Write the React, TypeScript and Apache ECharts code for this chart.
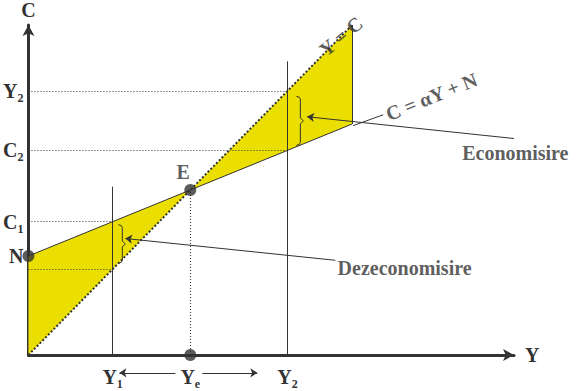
import React, { useEffect, useRef } from 'react';
import * as echarts from 'echarts';

// ---- values (data units) ----
const xAxisMax = 150;
const yAxisMax = 100;

const xTickValues = [26, 50, 80];
const xTickLabels = ['Y_1', 'Y_e', 'Y_2'];
const yTickValues = [26, 30, 40.4, 62, 80];
const yTickLabels = ['Y_1', 'N', 'C_1', 'C_2', 'Y_2'];

const consumptionLine = [[0, 30], [50, 50], [100, 70]];
const incomeLine = [[0, 0], [100, 100]];
const dissavingArea = [[0, 0], [0, 30], [50, 50]];
const savingArea = [[50, 50], [100, 100], [100, 70]];

const dottedGuides = [
  [[0, 80], [80, 80]],
  [[0, 62], [80, 62]],
  [[0, 40.4], [26, 40.4]],
  [[0, 26], [26, 26]],
  [[50, 0], [50, 50]],
];
const solidGuides = [
  [[26, 0], [26, 51]],
  [[80, 0], [80, 89]],
  [[100, 70], [100, 100]],
];
const bigDots = [[50, 50], [0, 30], [50, 0]];

// brace: x, top, bottom
const braces = [
  [29, 39.5, 27.8],
  [84, 78.4, 63.5],
];
const arrowPointers = [
  [[94.8, 28.7], [29.9, 35.3]],
  [[150, 65.6], [86.1, 72.2]],
  [[45.4, -5.4], [28.1, -5.4]],
  [[53.7, -5.4], [70.7, -5.4]],
];
const plainPointers = [[[100.3, 69.5], [109.6, 72.8]]];

const annotations = [
  { name: 'E', value: [47.8, 55.4], align: 'center', rotate: 0 },
  { name: 'Dezeconomisire', value: [95.5, 26.3], align: 'left', rotate: 0 },
  { name: 'Economisire', value: [134, 61.1], align: 'left', rotate: 0 },
  { name: 'C = αY + N', value: [124.5, 78.3], align: 'center', rotate: 22 },
  { name: 'Y = C', value: [96.5, 96.6], align: 'center', rotate: 40 },
];

const INK = '#333333';
const YELLOW = '#EADF00';
const FONT = 'Liberation Serif';

const rich = {
  m: { fontFamily: FONT, fontWeight: 'bold', fontSize: 20, color: INK, lineHeight: 26 },
  s: { fontFamily: FONT, fontWeight: 'bold', fontSize: 12, color: INK, lineHeight: 12, verticalAlign: 'bottom' },
};

function fmt(name: string): string {
  const i = name.indexOf('_');
  if (i < 0) return `{m|${name}}`;
  return `{m|${name.slice(0, i)}}{s|${name.slice(i + 1)}}`;
}
function lookup(values: number[], labels: string[], v: number): string {
  for (let i = 0; i < values.length; i++) {
    if (Math.abs(values[i] - v) < 1e-6) return fmt(labels[i]);
  }
  return '';
}

export default function App() {
  const ref = useRef<HTMLDivElement>(null);
  useEffect(() => {
    if (!ref.current) return;
    const chart = echarts.init(ref.current, null, { renderer: 'svg' });
    const areas = [dissavingArea, savingArea];
    const option: any = {
      animation: false,
      backgroundColor: '#ffffff',
      grid: { left: 28, right: 62, top: 21, bottom: 36 },
      xAxis: {
        type: 'value',
        min: 0,
        max: xAxisMax,
        name: 'Y',
        nameLocation: 'end',
        nameGap: 11,
        nameTextStyle: { fontFamily: FONT, fontWeight: 'bold', fontSize: 20, color: INK },
        splitLine: { show: false },
        axisTick: { show: false },
        axisLine: { onZero: false, lineStyle: { color: INK, width: 3 }, symbol: ['none', 'arrow'], symbolSize: [9, 11] },
        axisLabel: {
          customValues: xTickValues,
          margin: 9,
          formatter: (v: number) => lookup(xTickValues, xTickLabels, v),
          rich,
        },
      },
      yAxis: {
        type: 'value',
        min: 0,
        max: yAxisMax,
        name: 'C',
        nameLocation: 'end',
        nameGap: 5,
        nameTextStyle: { fontFamily: FONT, fontWeight: 'bold', fontSize: 20, color: INK, align: 'center' },
        splitLine: { show: false },
        axisTick: { show: false },
        axisLine: { onZero: false, lineStyle: { color: INK, width: 3 }, symbol: ['none', 'arrow'], symbolSize: [9, 11] },
        axisLabel: {
          customValues: yTickValues,
          margin: 5,
          formatter: (v: number) => lookup(yTickValues, yTickLabels, v),
          rich,
        },
      },
      series: [
        {
          type: 'custom',
          name: 'areas',
          clip: false,
          z: 1,
          data: areas.map((a) => a[0]),
          renderItem: (params: any, api: any) => {
            const poly = areas[params.dataIndex];
            return {
              type: 'polygon',
              shape: { points: poly.map((p) => api.coord(p)) },
              style: { fill: YELLOW, stroke: 'none' },
            };
          },
        },
        {
          type: 'line',
          name: 'C',
          data: consumptionLine,
          symbol: 'none',
          z: 3,
          lineStyle: { color: INK, width: 1 },
        },
        {
          type: 'line',
          name: 'Y=C',
          data: incomeLine,
          symbol: 'none',
          z: 3,
          lineStyle: { color: INK, width: 2, type: [2, 2] },
        },
        {
          type: 'lines',
          coordinateSystem: 'cartesian2d',
          z: 2,
          data: dottedGuides.map((c) => ({ coords: c })),
          symbol: 'none',
          lineStyle: { color: INK, width: 1, type: [1, 2], opacity: 1 },
        },
        {
          type: 'lines',
          coordinateSystem: 'cartesian2d',
          z: 2,
          data: solidGuides.map((c) => ({ coords: c })),
          symbol: 'none',
          lineStyle: { color: INK, width: 1, opacity: 1 },
        },
        {
          type: 'lines',
          coordinateSystem: 'cartesian2d',
          z: 4,
          clip: false,
          data: arrowPointers.map((c) => ({ coords: c })),
          symbol: ['none', 'arrow'],
          symbolSize: 7,
          lineStyle: { color: INK, width: 1, opacity: 1 },
        },
        {
          type: 'lines',
          coordinateSystem: 'cartesian2d',
          z: 4,
          clip: false,
          data: plainPointers.map((c) => ({ coords: c })),
          symbol: 'none',
          lineStyle: { color: INK, width: 1, opacity: 1 },
        },
        {
          type: 'custom',
          name: 'braces',
          z: 4,
          data: braces,
          encode: { x: 0, y: [1, 2] },
          renderItem: (params: any, api: any) => {
            const top = api.coord([api.value(0), api.value(1)]);
            const bot = api.coord([api.value(0), api.value(2)]);
            const x = top[0];
            const mid = (top[1] + bot[1]) / 2;
            return {
              type: 'polyline',
              shape: {
                points: [
                  [x - 4, top[1]],
                  [x - 1, top[1] + 1],
                  [x, top[1] + 3],
                  [x, mid - 3],
                  [x + 3, mid],
                  [x, mid + 3],
                  [x, bot[1] - 3],
                  [x - 1, bot[1] - 1],
                  [x - 4, bot[1]],
                ],
              },
              style: { stroke: INK, lineWidth: 1, fill: 'none' },
            };
          },
        },
        {
          type: 'scatter',
          name: 'points',
          z: 5,
          clip: false,
          data: bigDots,
          symbolSize: 12,
          itemStyle: { color: INK },
        },
        {
          type: 'scatter',
          name: 'annotations',
          z: 6,
          clip: false,
          symbolSize: 0,
          data: annotations.map((a) => ({
            name: a.name,
            value: a.value,
            label: {
              show: true,
              position: a.align === 'left' ? 'right' : 'inside',
              distance: 0,
              rotate: a.rotate,
              formatter: '{b}',
              fontFamily: FONT,
              fontWeight: 'bold',
              fontSize: 20,
              color: INK,
            },
          })),
        },
      ],
    };
    chart.setOption(option);
    return () => chart.dispose();
  }, []);
  return (
    <div
      ref={ref}
      style={{ position: 'fixed', left: 0, top: 0, width: 576, height: 391, background: '#fff' }}
    />
  );
}
